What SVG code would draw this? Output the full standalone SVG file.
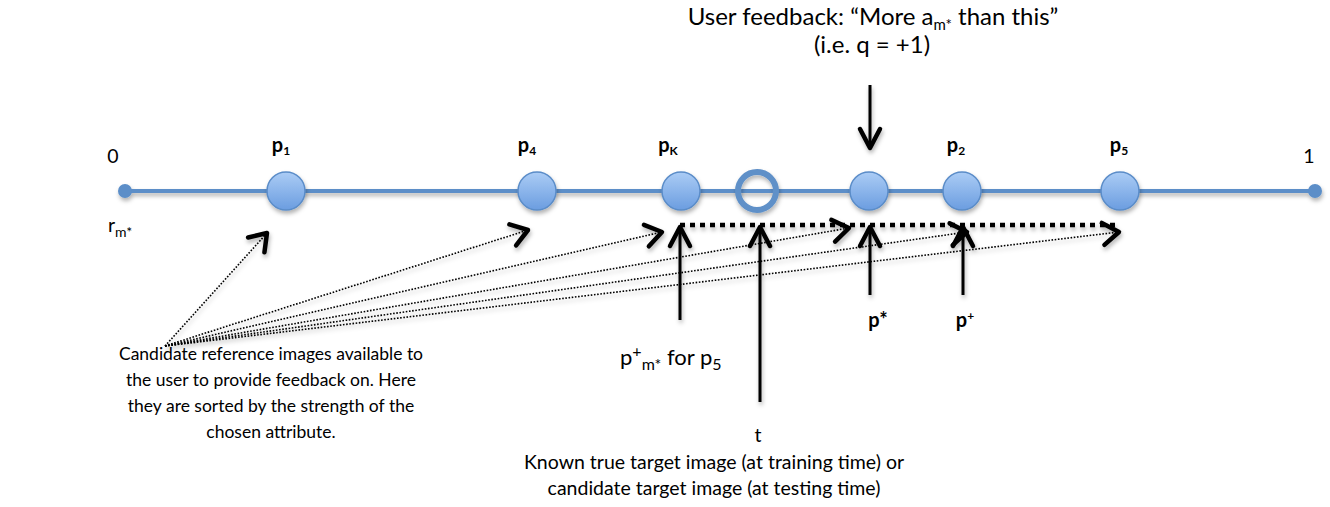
<svg xmlns="http://www.w3.org/2000/svg" width="1330" height="507" viewBox="0 0 1330 507">
<style>
text{font-family:Lato,"Liberation Sans",sans-serif;font-size:19.5px;fill:#000}
.b{font-weight:bold;font-size:20px}
.top{font-size:24px}
.cap{font-size:17.5px}
.sub{font-size:12px}
.msub{font-size:14px}
.tsub{font-size:15px}
.axis{stroke:#5b8ec8;stroke-width:4}
.node{fill:url(#g);stroke:#5a8cc8;stroke-width:1.5}
.arr{stroke:#000;stroke-width:3;fill:none}
.dot{stroke:#000;stroke-width:1.6;stroke-dasharray:1.6 1.6;fill:none}
</style>
<defs>
<linearGradient id="g" x1="0" y1="0" x2="0" y2="1">
<stop offset="0" stop-color="#abccf5"/><stop offset="1" stop-color="#6b9de0"/>
</linearGradient>
<filter id="sh" filterUnits="userSpaceOnUse" x="0" y="0" width="1330" height="507">
<feDropShadow dx="1" dy="3" stdDeviation="2" flood-color="#000" flood-opacity="0.3"/>
</filter>
<marker id="chev" markerUnits="userSpaceOnUse" viewBox="-30 -20 40 40" markerWidth="40" markerHeight="40" refX="0" refY="0" orient="auto" overflow="visible">
<path d="M-16,-11 L0,0 L-16,11" fill="none" stroke="#000" stroke-width="4.5" stroke-linecap="round" stroke-linejoin="round" stroke-dasharray="none"/>
</marker>
<marker id="up" markerUnits="userSpaceOnUse" viewBox="-30 -20 40 40" markerWidth="40" markerHeight="40" refX="0" refY="0" orient="auto" overflow="visible">
<path d="M-19,-10 L0,0 L-19,10" fill="none" stroke="#000" stroke-width="4.5" stroke-linecap="round" stroke-linejoin="round" stroke-dasharray="none"/>
</marker>
</defs>

<g id="axis" filter="url(#sh)">
<line class="axis" x1="125" y1="191" x2="1315" y2="191"/>
<circle cx="125" cy="191" r="7" fill="#5b8ec8"/>
<circle cx="1315" cy="191" r="7" fill="#5b8ec8"/>
</g>
<text x="113" y="163" text-anchor="middle">0</text>
<text x="1309" y="163" text-anchor="middle">1</text>
<text x="108" y="232">r<tspan class="msub" dy="5">m*</tspan></text>

<g id="p1" filter="url(#sh)"><circle class="node" cx="286" cy="191" r="19"/></g>
<text class="b" x="281" y="152" text-anchor="middle">p<tspan class="sub" dy="3">1</tspan></text>
<g id="p4" filter="url(#sh)"><circle class="node" cx="537" cy="191" r="19"/></g>
<text class="b" x="527" y="152" text-anchor="middle">p<tspan class="sub" dy="3">4</tspan></text>
<g id="pK" filter="url(#sh)"><circle class="node" cx="681" cy="191" r="19"/></g>
<text class="b" x="668" y="152" text-anchor="middle">p<tspan class="sub" dy="3">K</tspan></text>
<g id="t" filter="url(#sh)"><circle cx="757" cy="191" r="19" fill="none" stroke="#5f90c8" stroke-width="6"/></g>
<g id="pstar" filter="url(#sh)"><circle class="node" cx="869" cy="191" r="19"/></g>
<g id="p2" filter="url(#sh)"><circle class="node" cx="962" cy="191" r="19"/></g>
<text class="b" x="956" y="152" text-anchor="middle">p<tspan class="sub" dy="3">2</tspan></text>
<g id="p5" filter="url(#sh)"><circle class="node" cx="1120" cy="191" r="19"/></g>
<text class="b" x="1119" y="152" text-anchor="middle">p<tspan class="sub" dy="3">5</tspan></text>

<g id="connectors" filter="url(#sh)">
<line class="arr" x1="870" y1="85" x2="870" y2="148" marker-end="url(#up)"/>
<line x1="680" y1="225" x2="1120" y2="225" stroke="#000" stroke-width="4.5" stroke-dasharray="5 5"/>
<line class="arr" x1="680" y1="320" x2="680" y2="227" marker-end="url(#up)"/>
<line class="arr" x1="760" y1="402" x2="760" y2="227" marker-end="url(#up)"/>
<line class="arr" x1="870" y1="295" x2="870" y2="227" marker-end="url(#up)"/>
<line class="arr" x1="963" y1="295" x2="963" y2="227" marker-end="url(#up)"/>
<line class="dot" x1="165" y1="346" x2="267" y2="233" marker-end="url(#chev)"/>
<line class="dot" x1="165" y1="346" x2="528" y2="230" marker-end="url(#chev)"/>
<line class="dot" x1="165" y1="346" x2="662" y2="232" marker-end="url(#chev)"/>
<line class="dot" x1="165" y1="346" x2="849" y2="228" marker-end="url(#chev)"/>
<line class="dot" x1="165" y1="346" x2="967" y2="232" marker-end="url(#chev)"/>
<line class="dot" x1="165" y1="346" x2="1119" y2="232" marker-end="url(#chev)"/>
</g>

<text class="top" x="873" y="25" text-anchor="middle">User feedback: “More a<tspan class="tsub" dy="5">m*</tspan><tspan dy="-5"> than this”</tspan></text>
<text class="top" x="872" y="53" text-anchor="middle">(i.e. q = +1)</text>

<text class="b" x="878" y="327" text-anchor="middle">p*</text>
<text class="b" x="965" y="327" text-anchor="middle">p<tspan class="sub" dy="-7">+</tspan></text>
<text x="620" y="365" style="font-size:22px">p<tspan style="font-size:16px" dy="-8">+</tspan><tspan style="font-size:16px" dy="13">m*</tspan><tspan dy="-5"> for p</tspan><tspan style="font-size:16px" dy="5">5</tspan></text>

<text x="758" y="442" text-anchor="middle">t</text>
<text x="714" y="469" text-anchor="middle">Known true target image (at training time)  or</text>
<text x="714" y="495" text-anchor="middle">candidate target image (at testing time)</text>

<g id="caption">
<text class="cap" x="271" y="360" text-anchor="middle">Candidate reference images available to</text>
<text class="cap" x="271" y="386" text-anchor="middle">the user to provide feedback on. Here</text>
<text class="cap" x="271" y="412" text-anchor="middle">they are sorted by the strength of the</text>
<text class="cap" x="271" y="438" text-anchor="middle">chosen attribute.</text>
</g>
</svg>
